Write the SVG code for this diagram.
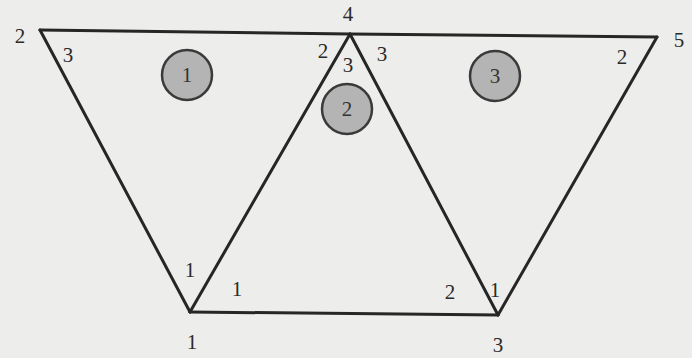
<svg xmlns="http://www.w3.org/2000/svg" width="692" height="358" viewBox="0 0 692 358">
<style>
.edge{stroke:#262626;stroke-width:3;fill:none;stroke-linecap:round;stroke-linejoin:round}
.lbl{font-family:"Liberation Serif","Times New Roman",serif;font-size:21px;fill:#2a2a2a;text-anchor:middle}
.elem circle{fill:#b4b4b4;stroke:#3a3a3a;stroke-width:2.5}
.elem text{font-family:"Liberation Serif","Times New Roman",serif;font-size:21px;fill:#333;text-anchor:middle}
</style>
<rect x="0" y="0" width="692" height="358" fill="#ededeb"/>
<g id="connectors">
<line class="edge" x1="40" y1="30" x2="350" y2="34"/>
<line class="edge" x1="350" y1="34" x2="657" y2="37"/>
<line class="edge" x1="40" y1="30" x2="190" y2="312"/>
<line class="edge" x1="190" y1="312" x2="350" y2="34"/>
<line class="edge" x1="350" y1="34" x2="498" y2="315"/>
<line class="edge" x1="498" y1="315" x2="657" y2="37"/>
<line class="edge" x1="190" y1="312" x2="498" y2="315"/>
</g>
<g id="node1"><text class="lbl" x="192" y="349">1</text></g>
<g id="node2"><text class="lbl" x="20" y="43">2</text></g>
<g id="node3"><text class="lbl" x="498" y="352">3</text></g>
<g id="node4"><text class="lbl" x="348" y="21">4</text></g>
<g id="node5"><text class="lbl" x="679" y="47">5</text></g>
<g id="local-labels">
<text class="lbl" x="68" y="62">3</text>
<text class="lbl" x="323" y="58">2</text>
<text class="lbl" x="348" y="72">3</text>
<text class="lbl" x="382" y="61">3</text>
<text class="lbl" x="622" y="64">2</text>
<text class="lbl" x="190" y="277">1</text>
<text class="lbl" x="237" y="296">1</text>
<text class="lbl" x="450" y="299">2</text>
<text class="lbl" x="495" y="297">1</text>
</g>
<g id="element1" class="elem"><circle cx="187" cy="75" r="25"/><text x="187" y="82">1</text></g>
<g id="element2" class="elem"><circle cx="347" cy="109" r="25"/><text x="347" y="116">2</text></g>
<g id="element3" class="elem"><circle cx="495" cy="76" r="25"/><text x="495" y="83">3</text></g>
</svg>
